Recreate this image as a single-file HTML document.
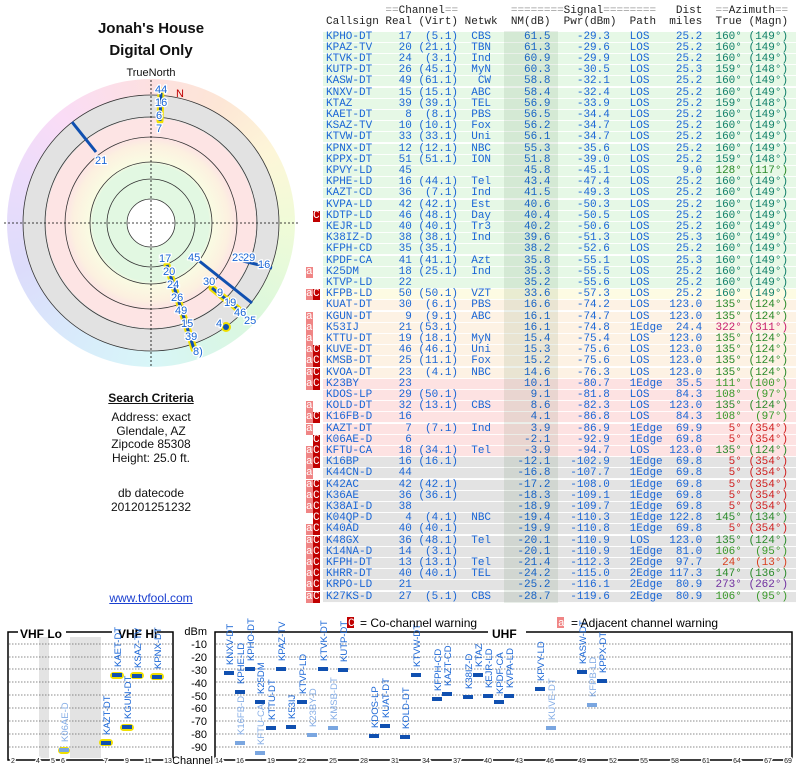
<!DOCTYPE html>
<html><head><meta charset="utf-8"><style>
body{margin:0;width:800px;height:768px;background:#fff;position:relative;overflow:hidden;font-family:"Liberation Sans",sans-serif}
.t{position:absolute;font-family:"Liberation Sans",sans-serif;color:#111;text-align:center}
#tbl{position:absolute;left:326px;top:0;font-family:"Liberation Mono",monospace;font-size:11px;white-space:pre;color:#1a66d6}
.r{position:absolute;left:-3px;width:470px;height:10.2px;line-height:11px;padding-left:3px;border-bottom:1px solid rgba(255,255,255,.9)}
.g{background:#e6f8e6}.y{background:#fdfbe3}.p{background:#fdf2e4}.k{background:#fde2e2}.s{background:#e3e3e3}
.h{position:absolute;color:#222;white-space:pre;font-family:"Liberation Mono",monospace;font-size:11px}
.m{position:absolute;font-family:"Liberation Mono",monospace;font-size:11px;line-height:11px;color:#fff;width:6.5px;text-align:center;height:11px}
.a{background:#f08585}.c{background:#c00000}
</style></head><body>
<div class="t" style="left:50px;width:202px;top:20px;font-size:15px;font-weight:bold">Jonah's House</div>
<div class="t" style="left:50px;width:202px;top:42px;font-size:15px;font-weight:bold">Digital Only</div>
<div class="t" style="left:100px;width:102px;top:67px;font-size:11px">TrueNorth</div>

<div style="position:absolute;left:7px;top:79px;width:288px;height:288px;border-radius:50%;background:conic-gradient(#fde0e0,#fde6d6 30deg,#fdf6d8 60deg,#f0fbd8 90deg,#dcf8dc 130deg,#d8f6ec 160deg,#d8f6f8 180deg,#d8ecfb 210deg,#dcdcfb 250deg,#ecdcfb 290deg,#fadcf6 320deg,#fde0e0)"></div>
<div style="position:absolute;left:23px;top:95px;width:256px;height:256px;border-radius:50%;background:radial-gradient(circle,#fff 0 24px,#e2f8e2 24px 58px,#fafbe2 62px,#fcf0e0 78px,#fde4e4 86px 105px,#e2e2e2 105px)"></div>

<svg width="800" height="768" style="position:absolute;left:0;top:0" font-family="Liberation Sans,sans-serif">
<g fill="none" stroke="#333" stroke-width="0.8">
<circle cx="151" cy="223" r="24"/><circle cx="151" cy="223" r="44"/><circle cx="151" cy="223" r="61"/><circle cx="151" cy="223" r="86"/><circle cx="151" cy="223" r="106"/><circle cx="151" cy="223" r="128"/>
</g>
<g stroke="#000" stroke-width="0.8" stroke-dasharray="2,2"><line x1="4" y1="223" x2="298" y2="223"/><line x1="151" y1="80" x2="151" y2="368"/></g>
<text x="176" y="97" font-size="11" fill="#c00000">N</text>
<g stroke="#f0e000" stroke-width="7" stroke-linecap="round">
<line x1="161" y1="91" x2="160" y2="121"/><line x1="167" y1="265" x2="194" y2="349"/><line x1="212" y1="288" x2="238" y2="309"/>
</g>
<circle cx="226" cy="327" r="5" fill="#f0e000"/>
<g stroke="#1050b0" stroke-width="3">
<line x1="161" y1="93" x2="160" y2="121"/><line x1="72" y1="122" x2="96" y2="152"/><line x1="198" y1="260" x2="252" y2="303"/><line x1="243" y1="261" x2="272" y2="268"/><line x1="167" y1="265" x2="194" y2="349"/><line x1="212" y1="288" x2="238" y2="309"/>
</g>
<circle cx="226" cy="327" r="3" fill="#1050b0"/>
<g font-size="11" fill="#1a66d6" stroke="#fff" stroke-width="2.5" paint-order="stroke">
<text x="155" y="93">44</text><text x="155" y="106">16</text><text x="156" y="119">6</text><text x="156" y="132">7</text>
<text x="95" y="164">21</text><text x="159" y="262">17</text><text x="163" y="275">20</text><text x="167" y="288">24</text><text x="171" y="301">26</text><text x="175" y="314">49</text><text x="181" y="327">15</text><text x="185" y="340">39</text><text x="193" y="355">8)</text>
<text x="188" y="261">45</text><text x="232" y="261">23</text><text x="243" y="261">29</text><text x="258" y="268">16</text>
<text x="203" y="285">30</text><text x="217" y="296">9</text><text x="224" y="306">19</text><text x="234" y="316">46</text><text x="244" y="324">25</text><text x="216" y="327">4</text>
</g>

<!-- bottom chart -->
<g fill="#e3e3e3"><rect x="39" y="637" width="10" height="121"/><rect x="70" y="637" width="31" height="121"/></g>
<g stroke="#666" stroke-width="0.8" stroke-dasharray="1.5,1.5">
<line x1="9" y1="644" x2="172" y2="644"/><line x1="9" y1="657" x2="172" y2="657"/><line x1="9" y1="669" x2="172" y2="669"/><line x1="9" y1="682" x2="172" y2="682"/><line x1="9" y1="695" x2="172" y2="695"/><line x1="9" y1="708" x2="172" y2="708"/><line x1="9" y1="721" x2="172" y2="721"/><line x1="9" y1="734" x2="172" y2="734"/><line x1="9" y1="747" x2="172" y2="747"/>
<line x1="216" y1="644" x2="791" y2="644"/><line x1="216" y1="657" x2="791" y2="657"/><line x1="216" y1="669" x2="791" y2="669"/><line x1="216" y1="682" x2="791" y2="682"/><line x1="216" y1="695" x2="791" y2="695"/><line x1="216" y1="708" x2="791" y2="708"/><line x1="216" y1="721" x2="791" y2="721"/><line x1="216" y1="734" x2="791" y2="734"/><line x1="216" y1="747" x2="791" y2="747"/>
</g>
<g stroke="#000" stroke-width="1.5" fill="none">
<polyline points="18,632 8,632 8,760 173,760 173,632 157,632"/><line x1="66" y1="632" x2="112" y2="632"/>
<polyline points="488,632 215,632 215,760 792,760 792,632 526,632"/>
</g>
<text x="20" y="638" font-size="12" font-weight="bold">VHF Lo</text>
<text x="118" y="638" font-size="12" font-weight="bold">VHF Hi</text>
<text x="492" y="638" font-size="12" font-weight="bold">UHF</text>
<g font-size="11" text-anchor="end"><text x="207" y="635">dBm</text><text x="207" y="648">-10</text><text x="207" y="661">-20</text><text x="207" y="674">-30</text><text x="207" y="687">-40</text><text x="207" y="700">-50</text><text x="207" y="712">-60</text><text x="207" y="725">-70</text><text x="207" y="738">-80</text><text x="207" y="751">-90</text><text x="213" y="764">Channel</text></g>
<g font-size="7" text-anchor="middle" fill="#222" stroke="#fff" stroke-width="3" paint-order="stroke">
<text x="13" y="763">2</text><text x="38" y="763">4</text><text x="53" y="763">5</text><text x="63" y="763">6</text><text x="106" y="763">7</text><text x="127" y="763">9</text><text x="148" y="763">11</text><text x="168" y="763">13</text>
<text x="219" y="763">14</text><text x="240" y="763">16</text><text x="271" y="763">19</text><text x="302" y="763">22</text><text x="333" y="763">25</text><text x="364" y="763">28</text><text x="395" y="763">31</text><text x="426" y="763">34</text><text x="457" y="763">37</text><text x="488" y="763">40</text><text x="519" y="763">43</text><text x="550" y="763">46</text><text x="582" y="763">49</text><text x="613" y="763">52</text><text x="644" y="763">55</text><text x="675" y="763">58</text><text x="706" y="763">61</text><text x="737" y="763">64</text><text x="768" y="763">67</text><text x="788" y="763">69</text>
</g>
<!-- VHF bars -->
<g fill="#f0e000"><rect x="99" y="739" width="14" height="7" rx="3.5"/><rect x="110" y="672" width="14" height="7" rx="3.5"/><rect x="120" y="724" width="14" height="7" rx="3.5"/><rect x="130" y="672" width="14" height="7" rx="3.5"/><rect x="150" y="673" width="14" height="7" rx="3.5"/><rect x="58" y="747" width="12" height="7" rx="3.5"/></g>
<g fill="#1050b0">
<rect x="101" y="741" width="10" height="4"/><rect x="112" y="673" width="10" height="4"/><rect x="122" y="725" width="10" height="4"/><rect x="132" y="674" width="10" height="4"/><rect x="152" y="675" width="10" height="4"/>
<rect x="224" y="671" width="10" height="4"/><rect x="235" y="690" width="10" height="4"/><rect x="245" y="667" width="10" height="4"/><rect x="255" y="700" width="10" height="4"/><rect x="266" y="726" width="10" height="4"/><rect x="276" y="667" width="10" height="4"/><rect x="286" y="725" width="10" height="4"/><rect x="297" y="700" width="10" height="4"/><rect x="318" y="667" width="10" height="4"/><rect x="338" y="668" width="10" height="4"/><rect x="369" y="734" width="10" height="4"/><rect x="380" y="724" width="10" height="4"/><rect x="400" y="735" width="10" height="4"/><rect x="411" y="673" width="10" height="4"/><rect x="432" y="697" width="10" height="4"/><rect x="442" y="692" width="10" height="4"/><rect x="463" y="695" width="10" height="4"/><rect x="473" y="673" width="10" height="4"/><rect x="483" y="694" width="10" height="4"/><rect x="494" y="700" width="10" height="4"/><rect x="504" y="694" width="10" height="4"/><rect x="535" y="687" width="10" height="4"/><rect x="577" y="670" width="10" height="4"/><rect x="597" y="679" width="10" height="4"/>
</g>
<g fill="#7aa6e0"><rect x="59" y="748" width="10" height="4"/><rect x="235" y="741" width="10" height="4"/><rect x="255" y="751" width="10" height="4"/><rect x="307" y="733" width="10" height="4"/><rect x="328" y="726" width="10" height="4"/><rect x="546" y="726" width="10" height="4"/><rect x="587" y="703" width="10" height="4"/></g>
<g font-size="9.5" fill="#1a66d6">
<text transform="translate(110,735) rotate(-90)">KAZT-DT</text><text transform="translate(121,667) rotate(-90)">KAET-DT</text><text transform="translate(131,719) rotate(-90)">KGUN-DT</text><text transform="translate(141,668) rotate(-90)">KSAZ-TV</text><text transform="translate(161,669) rotate(-90)">KPNX-DT</text>
<text transform="translate(233,665) rotate(-90)">KNXV-DT</text><text transform="translate(244,684) rotate(-90)">KPHE-LD</text><text transform="translate(254,661) rotate(-90)">KPHO-DT</text><text transform="translate(264,694) rotate(-90)">K25DM</text><text transform="translate(275,720) rotate(-90)">KTTU-DT</text><text transform="translate(285,661) rotate(-90)">KPAZ-TV</text><text transform="translate(295,719) rotate(-90)">K53IJ</text><text transform="translate(306,694) rotate(-90)">KTVP-LD</text><text transform="translate(327,661) rotate(-90)">KTVK-DT</text><text transform="translate(347,662) rotate(-90)">KUTP-DT</text><text transform="translate(378,728) rotate(-90)">KDOS-LP</text><text transform="translate(389,718) rotate(-90)">KUAT-DT</text><text transform="translate(409,729) rotate(-90)">KOLD-DT</text><text transform="translate(420,667) rotate(-90)">KTVW-DT</text><text transform="translate(441,691) rotate(-90)">KFPH-CD</text><text transform="translate(451,686) rotate(-90)">KAZT-CD</text><text transform="translate(472,689) rotate(-90)">K38IZ-D</text><text transform="translate(482,667) rotate(-90)">KTAZ</text><text transform="translate(492,688) rotate(-90)">KEJR-LD</text><text transform="translate(503,694) rotate(-90)">KPDF-CA</text><text transform="translate(513,688) rotate(-90)">KVPA-LD</text><text transform="translate(544,681) rotate(-90)">KPVY-LD</text><text transform="translate(586,664) rotate(-90)">KASW-DT</text><text transform="translate(606,673) rotate(-90)">KPPX-DT</text>
</g>
<g font-size="9.5" fill="#86aee6">
<text transform="translate(68,742) rotate(-90)">K06AE-D</text><text transform="translate(244,735) rotate(-90)">K16FB-D</text><text transform="translate(264,745) rotate(-90)">KFTU-CA</text><text transform="translate(316,727) rotate(-90)">K23BY-D</text><text transform="translate(337,720) rotate(-90)">KMSB-DT</text><text transform="translate(555,720) rotate(-90)">KUVE-DT</text><text transform="translate(596,697) rotate(-90)">KFPB-LD</text>
</g>
<rect x="347" y="617" width="7" height="11" fill="#c00000"/><text x="348" y="626" font-size="11" fill="#fff" font-family="Liberation Mono,monospace">C</text>
<text x="360" y="627" font-size="12">= Co-channel warning</text>
<rect x="557" y="617" width="7" height="11" fill="#f08585"/><text x="558" y="626" font-size="11" fill="#fff" font-family="Liberation Mono,monospace">a</text>
<text x="571" y="627" font-size="12">= Adjacent channel warning</text>
</svg>

<div class="t" style="left:60px;width:182px;top:391px;font-size:12px;font-weight:bold;text-decoration:underline">Search Criteria</div>
<div class="t" style="left:60px;width:182px;top:411px;font-size:12px;line-height:13.7px">Address: exact<br>Glendale, AZ<br>Zipcode 85308<br>Height: 25.0 ft.</div>
<div class="t" style="left:60px;width:182px;top:487px;font-size:12px;line-height:13.5px">db datecode<br>201201251232</div>
<div class="t" style="left:60px;width:182px;top:591px;font-size:12px;color:#1a3fd0;text-decoration:underline">www.tvfool.com</div>

<div class="h" style="left:326px;top:5px">         <span style="color:#999">==</span>Channel<span style="color:#999">==</span>        <span style="color:#999">========</span>Signal<span style="color:#999">========</span>   Dist  <span style="color:#999">==</span>Azimuth<span style="color:#999">==</span></div>
<div class="h" style="left:326px;top:16px">Callsign Real (Virt) Netwk  NM(dB)  Pwr(dBm)  Path  miles  True (Magn)</div>

<div id="tbl">
<div class="r g" style="top:31.5px">KPHO-DT    17  (5.1)  CBS     61.5    -29.3   LOS    25.2<span style="color:#12806a">  160° (149°)</span></div>
<div class="r g" style="top:42.7px">KPAZ-TV    20 (21.1)  TBN     61.3    -29.6   LOS    25.2<span style="color:#12806a">  160° (149°)</span></div>
<div class="r g" style="top:53.9px">KTVK-DT    24  (3.1)  Ind     60.9    -29.9   LOS    25.2<span style="color:#12806a">  160° (149°)</span></div>
<div class="r g" style="top:65.1px">KUTP-DT    26 (45.1)  MyN     60.3    -30.5   LOS    25.3<span style="color:#12806a">  159° (148°)</span></div>
<div class="r g" style="top:76.3px">KASW-DT    49 (61.1)   CW     58.8    -32.1   LOS    25.2<span style="color:#12806a">  160° (149°)</span></div>
<div class="r g" style="top:87.5px">KNXV-DT    15 (15.1)  ABC     58.4    -32.4   LOS    25.2<span style="color:#12806a">  160° (149°)</span></div>
<div class="r g" style="top:98.7px">KTAZ       39 (39.1)  TEL     56.9    -33.9   LOS    25.2<span style="color:#12806a">  159° (148°)</span></div>
<div class="r g" style="top:109.9px">KAET-DT     8  (8.1)  PBS     56.5    -34.4   LOS    25.2<span style="color:#12806a">  160° (149°)</span></div>
<div class="r g" style="top:121.1px">KSAZ-TV    10 (10.1)  Fox     56.2    -34.7   LOS    25.2<span style="color:#12806a">  160° (149°)</span></div>
<div class="r g" style="top:132.3px">KTVW-DT    33 (33.1)  Uni     56.1    -34.7   LOS    25.2<span style="color:#12806a">  160° (149°)</span></div>
<div class="r g" style="top:143.5px">KPNX-DT    12 (12.1)  NBC     55.3    -35.6   LOS    25.2<span style="color:#12806a">  160° (149°)</span></div>
<div class="r g" style="top:154.7px">KPPX-DT    51 (51.1)  ION     51.8    -39.0   LOS    25.2<span style="color:#12806a">  159° (148°)</span></div>
<div class="r g" style="top:165.9px">KPVY-LD    45                 45.8    -45.1   LOS     9.0<span style="color:#2a8a2a">  128° (117°)</span></div>
<div class="r g" style="top:177.1px">KPHE-LD    16 (44.1)  Tel     43.4    -47.4   LOS    25.2<span style="color:#12806a">  160° (149°)</span></div>
<div class="r g" style="top:188.3px">KAZT-CD    36  (7.1)  Ind     41.5    -49.3   LOS    25.2<span style="color:#12806a">  160° (149°)</span></div>
<div class="r g" style="top:199.5px">KVPA-LD    42 (42.1)  Est     40.6    -50.3   LOS    25.2<span style="color:#12806a">  160° (149°)</span></div>
<div class="r g" style="top:210.7px">KDTP-LD    46 (48.1)  Day     40.4    -50.5   LOS    25.2<span style="color:#12806a">  160° (149°)</span></div>
<div class="r g" style="top:221.9px">KEJR-LD    40 (40.1)  Tr3     40.2    -50.6   LOS    25.2<span style="color:#12806a">  160° (149°)</span></div>
<div class="r g" style="top:233.1px">K38IZ-D    38 (38.1)  Ind     39.6    -51.3   LOS    25.3<span style="color:#12806a">  160° (149°)</span></div>
<div class="r g" style="top:244.3px">KFPH-CD    35 (35.1)          38.2    -52.6   LOS    25.2<span style="color:#12806a">  160° (149°)</span></div>
<div class="r g" style="top:255.5px">KPDF-CA    41 (41.1)  Azt     35.8    -55.1   LOS    25.3<span style="color:#12806a">  160° (149°)</span></div>
<div class="r g" style="top:266.7px">K25DM      18 (25.1)  Ind     35.3    -55.5   LOS    25.2<span style="color:#12806a">  160° (149°)</span></div>
<div class="r g" style="top:277.9px">KTVP-LD    22                 35.2    -55.6   LOS    25.2<span style="color:#12806a">  160° (149°)</span></div>
<div class="r y" style="top:289.1px">KFPB-LD    50 (50.1)  VZT     33.6    -57.3   LOS    25.2<span style="color:#12806a">  160° (149°)</span></div>
<div class="r p" style="top:300.3px">KUAT-DT    30  (6.1)  PBS     16.6    -74.2   LOS   123.0<span style="color:#2a8a2a">  135° (124°)</span></div>
<div class="r p" style="top:311.5px">KGUN-DT     9  (9.1)  ABC     16.1    -74.7   LOS   123.0<span style="color:#2a8a2a">  135° (124°)</span></div>
<div class="r p" style="top:322.7px">K53IJ      21 (53.1)          16.1    -74.8   1Edge  24.4<span style="color:#c8206e">  322° (311°)</span></div>
<div class="r p" style="top:333.9px">KTTU-DT    19 (18.1)  MyN     15.4    -75.4   LOS   123.0<span style="color:#2a8a2a">  135° (124°)</span></div>
<div class="r p" style="top:345.1px">KUVE-DT    46 (46.1)  Uni     15.3    -75.6   LOS   123.0<span style="color:#2a8a2a">  135° (124°)</span></div>
<div class="r p" style="top:356.3px">KMSB-DT    25 (11.1)  Fox     15.2    -75.6   LOS   123.0<span style="color:#2a8a2a">  135° (124°)</span></div>
<div class="r p" style="top:367.5px">KVOA-DT    23  (4.1)  NBC     14.6    -76.3   LOS   123.0<span style="color:#2a8a2a">  135° (124°)</span></div>
<div class="r k" style="top:378.7px">K23BY      23                 10.1    -80.7   1Edge  35.5<span style="color:#3a9a2a">  111° (100°)</span></div>
<div class="r k" style="top:389.9px">KDOS-LP    29 (50.1)           9.1    -81.8   LOS    84.3<span style="color:#3a9a2a">  108°  (97°)</span></div>
<div class="r k" style="top:401.1px">KOLD-DT    32 (13.1)  CBS      8.6    -82.3   LOS   123.0<span style="color:#2a8a2a">  135° (124°)</span></div>
<div class="r k" style="top:412.3px">K16FB-D    16                  4.1    -86.8   LOS    84.3<span style="color:#3a9a2a">  108°  (97°)</span></div>
<div class="r k" style="top:423.5px">KAZT-DT     7  (7.1)  Ind      3.9    -86.9   1Edge  69.9<span style="color:#d02020">    5° (354°)</span></div>
<div class="r k" style="top:434.7px">K06AE-D     6                 -2.1    -92.9   1Edge  69.8<span style="color:#d02020">    5° (354°)</span></div>
<div class="r k" style="top:445.9px">KFTU-CA    18 (34.1)  Tel     -3.9    -94.7   LOS   123.0<span style="color:#2a8a2a">  135° (124°)</span></div>
<div class="r s" style="top:457.1px">K16BP      16 (16.1)         -12.1   -102.9   1Edge  69.8<span style="color:#d02020">    5° (354°)</span></div>
<div class="r s" style="top:468.3px">K44CN-D    44                -16.8   -107.7   1Edge  69.8<span style="color:#d02020">    5° (354°)</span></div>
<div class="r s" style="top:479.5px">K42AC      42 (42.1)         -17.2   -108.0   1Edge  69.8<span style="color:#d02020">    5° (354°)</span></div>
<div class="r s" style="top:490.7px">K36AE      36 (36.1)         -18.3   -109.1   1Edge  69.8<span style="color:#d02020">    5° (354°)</span></div>
<div class="r s" style="top:501.9px">K38AI-D    38                -18.9   -109.7   1Edge  69.8<span style="color:#d02020">    5° (354°)</span></div>
<div class="r s" style="top:513.1px">K04QP-D     4  (4.1)  NBC    -19.4   -110.3   1Edge 122.8<span style="color:#2a8a2a">  145° (134°)</span></div>
<div class="r s" style="top:524.3px">K40AD      40 (40.1)         -19.9   -110.8   1Edge  69.8<span style="color:#d02020">    5° (354°)</span></div>
<div class="r s" style="top:535.5px">K48GX      36 (48.1)  Tel    -20.1   -110.9   LOS   123.0<span style="color:#2a8a2a">  135° (124°)</span></div>
<div class="r s" style="top:546.7px">K14NA-D    14  (3.1)         -20.1   -110.9   1Edge  81.0<span style="color:#3a9a2a">  106°  (95°)</span></div>
<div class="r s" style="top:557.9px">KFPH-DT    13 (13.1)  Tel    -21.4   -112.3   2Edge  97.7<span style="color:#d84020">   24°  (13°)</span></div>
<div class="r s" style="top:569.1px">KHRR-DT    40 (40.1)  TEL    -24.2   -115.0   2Edge 117.3<span style="color:#2a8a2a">  147° (136°)</span></div>
<div class="r s" style="top:580.3px">KRPO-LD    21                -25.2   -116.1   2Edge  80.9<span style="color:#7030a0">  273° (262°)</span></div>
<div class="r s" style="top:591.5px">K27KS-D    27  (5.1)  CBS    -28.7   -119.6   2Edge  80.9<span style="color:#3a9a2a">  106°  (95°)</span></div>
</div>
<div style="position:absolute;left:504px;top:31px;width:54px;height:572px;background:rgba(0,60,0,0.08)"></div>

<!-- warnings -->
<div class="m c" style="left:313px;top:210.7px">C</div>
<div class="m a" style="left:306px;top:266.7px">a</div>
<div class="m a" style="left:306px;top:289.1px">a</div><div class="m c" style="left:313px;top:289.1px">C</div>
<div class="m a" style="left:306px;top:311.5px">a</div>
<div class="m a" style="left:306px;top:322.7px">a</div>
<div class="m a" style="left:306px;top:333.9px">a</div>
<div class="m a" style="left:306px;top:345.1px">a</div><div class="m c" style="left:313px;top:345.1px">C</div>
<div class="m a" style="left:306px;top:356.3px">a</div><div class="m c" style="left:313px;top:356.3px">C</div>
<div class="m a" style="left:306px;top:367.5px">a</div><div class="m c" style="left:313px;top:367.5px">C</div>
<div class="m a" style="left:306px;top:378.7px">a</div><div class="m c" style="left:313px;top:378.7px">C</div>
<div class="m a" style="left:306px;top:401.1px">a</div>
<div class="m a" style="left:306px;top:412.3px">a</div><div class="m c" style="left:313px;top:412.3px">C</div>
<div class="m a" style="left:306px;top:423.5px">a</div>
<div class="m c" style="left:313px;top:434.7px">C</div>
<div class="m a" style="left:306px;top:445.9px">a</div><div class="m c" style="left:313px;top:445.9px">C</div>
<div class="m a" style="left:306px;top:457.1px">a</div><div class="m c" style="left:313px;top:457.1px">C</div>
<div class="m a" style="left:306px;top:468.3px">a</div>
<div class="m a" style="left:306px;top:479.5px">a</div><div class="m c" style="left:313px;top:479.5px">C</div>
<div class="m a" style="left:306px;top:490.7px">a</div><div class="m c" style="left:313px;top:490.7px">C</div>
<div class="m a" style="left:306px;top:501.9px">a</div><div class="m c" style="left:313px;top:501.9px">C</div>
<div class="m c" style="left:313px;top:513.1px">C</div>
<div class="m a" style="left:306px;top:524.3px">a</div><div class="m c" style="left:313px;top:524.3px">C</div>
<div class="m a" style="left:306px;top:535.5px">a</div><div class="m c" style="left:313px;top:535.5px">C</div>
<div class="m a" style="left:306px;top:546.7px">a</div><div class="m c" style="left:313px;top:546.7px">C</div>
<div class="m a" style="left:306px;top:557.9px">a</div><div class="m c" style="left:313px;top:557.9px">C</div>
<div class="m a" style="left:306px;top:569.1px">a</div><div class="m c" style="left:313px;top:569.1px">C</div>
<div class="m a" style="left:306px;top:580.3px">a</div><div class="m c" style="left:313px;top:580.3px">C</div>
<div class="m a" style="left:306px;top:591.5px">a</div><div class="m c" style="left:313px;top:591.5px">C</div>
</body></html>
